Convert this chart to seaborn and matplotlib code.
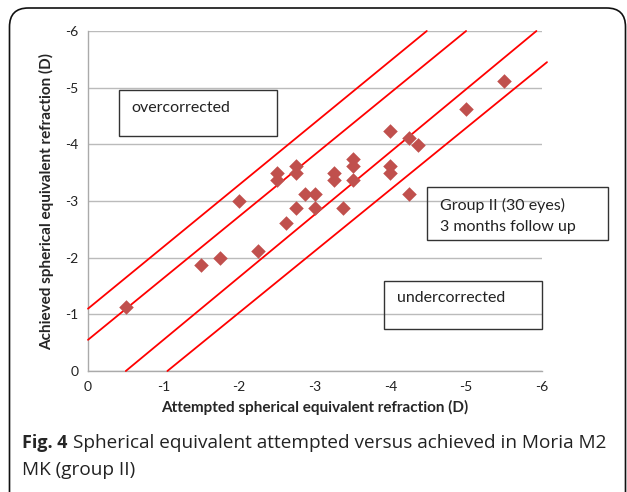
import matplotlib
matplotlib.use("Agg")
import matplotlib.pyplot as plt
from matplotlib.patches import FancyBboxPatch, Rectangle
import seaborn as sns
import pandas as pd

attempted = [-0.5, -1.5, -1.75, -2.25, -2.0, -2.5, -2.5, -2.62, -2.75, -2.75, -2.75,
             -2.87, -3.0, -3.0, -3.25, -3.25, -3.37, -3.5, -3.5, -3.5, -4.0, -4.0,
             -4.0, -4.25, -4.37, -4.25, -5.0, -5.5]
achieved = [-1.13, -1.87, -2.0, -2.12, -3.0, -3.5, -3.37, -2.62, -3.62, -3.49, -2.87,
            -3.12, -3.12, -2.87, -3.5, -3.37, -2.87, -3.75, -3.62, -3.37, -4.24, -3.62,
            -3.5, -4.12, -3.99, -3.12, -4.62, -5.12]

line_names = ["+1.0 D", "+0.5 D", "-0.5 D", "-1.0 D"]
line_x = [[0.0, -4.48], [0.0, -5.0], [-0.5, -5.93], [-1.05, -6.07]]
line_y = [[-1.1, -6.0], [-0.55, -6.0], [0.0, -6.0], [0.0, -5.45]]

ticks = [0, -1, -2, -3, -4, -5, -6]
tick_labels = ["0", "-1", "-2", "-3", "-4", "-5", "-6"]

sns.set_style("white")
plt.rcParams["font.family"] = ["Lato", "DejaVu Sans"]

W, H = 627, 492
fig = plt.figure(figsize=(W / 100, H / 100), dpi=100)
ax = fig.add_axes([88 / W, 1 - 371 / H, (541.7 - 88) / W, (371 - 31) / H])

pts = pd.DataFrame({"attempted": attempted, "achieved": achieved})
for xs, ys in zip(line_x, line_y):
    sns.lineplot(x=xs, y=ys, ax=ax, color="#FF0000", lw=1.3, estimator=None,
                 sort=False, clip_on=False, zorder=3)
sns.scatterplot(data=pts, x="attempted", y="achieved", ax=ax, marker="D", s=55,
                color="#C0504D", edgecolor="#C0504D", linewidth=0, zorder=4)

ax.set_xlim(0, -6)
ax.set_ylim(0, -6)
ax.set_xticks(ticks)
ax.set_xticklabels(tick_labels)
ax.set_yticks(ticks)
ax.set_yticklabels(tick_labels)
ax.tick_params(axis="both", length=0, labelsize=10, colors="#222222", pad=7)
ax.grid(axis="y", color="#BBBBBB", lw=1)
ax.grid(axis="x", visible=False)
for s in ["top", "right"]:
    ax.spines[s].set_visible(False)
for s in ["left", "bottom"]:
    ax.spines[s].set_color("#AAAAAA")
    ax.spines[s].set_linewidth(1)
ax.set_xlabel("Attempted spherical equivalent refraction (D)", fontsize=11,
              fontweight="bold", labelpad=5)
ax.set_ylabel("Achieved spherical equivalent refraction (D)", fontsize=11,
              fontweight="bold", labelpad=8)

def box(x0, y0, x1, y1):
    fig.patches.append(Rectangle((x0 / W, 1 - y1 / H), (x1 - x0) / W, (y1 - y0) / H,
                                 transform=fig.transFigure, fill=False,
                                 edgecolor="#333333", lw=1, zorder=5))

ann_fs = 11.5
box(119, 90, 277, 136)
fig.text(131 / W, 1 - 108 / H, "overcorrected", fontsize=ann_fs, va="center", color="#222222")
box(427, 187, 608, 240)
fig.text(440 / W, 1 - 205 / H, "Group II (30 eyes)", fontsize=ann_fs, va="center", color="#222222")
fig.text(440 / W, 1 - 227 / H, "3 months follow up", fontsize=ann_fs, va="center", color="#222222")
box(384, 281, 541.7, 329)
fig.text(397 / W, 1 - 298 / H, "undercorrected", fontsize=ann_fs, va="center", color="#222222")

fig.patches.append(FancyBboxPatch((9.5 / W, -20 / H), (616 / W), (504 / H),
                                  boxstyle="round,pad=0,rounding_size=0.03",
                                  transform=fig.transFigure, fill=False,
                                  edgecolor="#111111", lw=1.2, mutation_aspect=W / H))

cap_fam = ["Open Sans", "DejaVu Sans"]
fig.text(22 / W, 1 - 443 / H, "Fig. 4", fontsize=13, fontweight="bold",
         va="center", family=cap_fam)
fig.text(73 / W, 1 - 443 / H, "Spherical equivalent attempted versus achieved in Moria M2",
         fontsize=13.7, va="center", family=cap_fam, color="#222222")
fig.text(22 / W, 1 - 470 / H, "MK (group II)", fontsize=13.7, va="center",
         family=cap_fam, color="#222222")

fig.savefig("out.png", dpi=100)
